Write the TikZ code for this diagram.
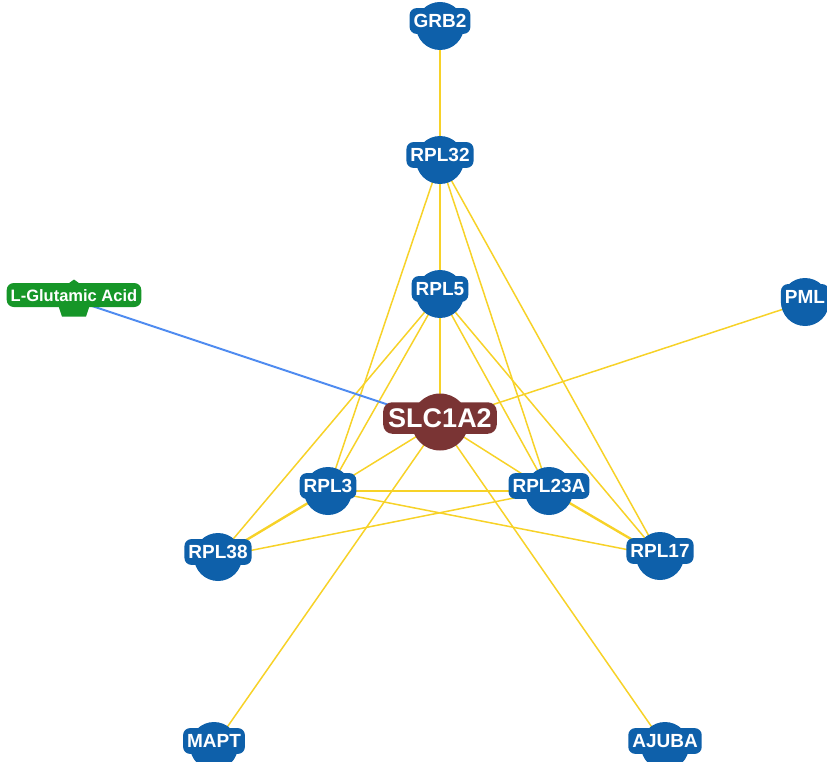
\documentclass[tikz,border=0pt]{standalone}
\usepackage{fontspec}
\setmainfont{Liberation Sans}
\usetikzlibrary{shapes.geometric,backgrounds}

\definecolor{geneblue}{RGB}{14,96,170}
\definecolor{drugbrown}{RGB}{122,52,52}
\definecolor{chemgreen}{RGB}{22,150,40}
\definecolor{linkyellow}{RGB}{247,210,40}
\definecolor{linkblue}{RGB}{80,140,240}

\begin{document}
\begin{tikzpicture}[
  x=1pt, y=-1pt,
  gene/.style={
    circle,
    fill=geneblue,
    minimum size=48pt,
    inner sep=0pt
  },
  genetext/.style={
    rectangle,
    rounded corners=7pt,
    fill=geneblue,
    text=white,
    font=\bfseries\fontsize{19}{19}\selectfont,
    text height=13.8pt, text depth=0pt,
    inner xsep=4pt, inner ysep=6pt,
    yshift=5pt
  },
  target/.style={
    circle,
    fill=drugbrown,
    minimum size=57pt,
    inner sep=0pt
  },
  targettext/.style={
    rectangle,
    rounded corners=9pt,
    fill=drugbrown,
    text=white,
    font=\bfseries\fontsize{27}{27}\selectfont,
    text height=19.5pt, text depth=0pt,
    inner xsep=5pt, inner ysep=6pt,
    yshift=4pt
  },
  chem/.style={
    regular polygon,
    regular polygon sides=5,
    fill=chemgreen,
    minimum size=41pt,
    inner sep=0pt
  },
  chemtext/.style={
    rectangle,
    rounded corners=7pt,
    fill=chemgreen,
    text=white,
    font=\bfseries\fontsize{16.5}{16.5}\selectfont,
    text height=12pt, text depth=0pt,
    inner xsep=4pt, inner ysep=6pt,
    yshift=5pt
  },
  link/.style={
    draw=linkyellow,
    line width=1.5pt
  },
  boldlink/.style={
    draw=linkyellow,
    line width=2.4pt
  },
  druglink/.style={
    draw=linkblue,
    line width=2pt
  }]
  \useasboundingbox (0,0) rectangle (827,762);
  % centre
  \node [target, label={[targettext]center:SLC1A2}] (slc1a2) at (440,422) {};
  % upper chain
  \node [gene, label={[genetext]center:GRB2}] (grb2) at (440,26) {};
  \node [gene, label={[genetext]center:RPL32}] (rpl32) at (440,160) {};
  \node [gene, label={[genetext]center:RPL5}] (rpl5) at (440,294) {};
  % sides
  \node [chem, label={[chemtext]center:L-Glutamic Acid}] (glutamic) at (74,300) {};
  \node [gene, label={[genetext]center:PML}] (pml) at (805,302) {};
  % ribosome ring
  \node [gene, label={[genetext]center:RPL3}] (rpl3) at (328,491) {};
  \node [gene, label={[genetext]center:RPL23A}] (rpl23a) at (549,491) {};
  \node [gene, label={[genetext]center:RPL38}] (rpl38) at (218,557) {};
  \node [gene, label={[genetext]center:RPL17}] (rpl17) at (660,556) {};
  % bottom
  \node [gene, label={[genetext]center:MAPT}] (mapt) at (214,746) {};
  \node [gene, label={[genetext]center:AJUBA}] (ajuba) at (665,746) {};
  \begin{scope}[on background layer]
  % chain
  \draw[link] (grb2.center) -- (rpl32.center);
  \draw[link] (rpl32.center) -- (rpl5.center);
  \draw[link] (rpl32.center) -- (rpl3.center);
  \draw[link] (rpl32.center) -- (rpl23a.center);
  \draw[link] (rpl32.center) -- (rpl17.center);
  % rpl5
  \draw[link] (rpl5.center) -- (slc1a2.center);
  \draw[link] (rpl5.center) -- (rpl3.center);
  \draw[link] (rpl5.center) -- (rpl38.center);
  \draw[link] (rpl5.center) -- (rpl23a.center);
  \draw[link] (rpl5.center) -- (rpl17.center);
  % slc1a2
  \draw[link] (slc1a2.center) -- (rpl3.center);
  \draw[link] (slc1a2.center) -- (rpl23a.center);
  \draw[link] (slc1a2.center) -- (pml.center);
  \draw[link] (slc1a2.center) -- (mapt.center);
  \draw[link] (slc1a2.center) -- (ajuba.center);
  \draw[druglink] (slc1a2.center) -- (glutamic.center);
  % ring
  \draw[link] (rpl3.center) -- (rpl23a.center);
  \draw[link] (rpl3.center) -- (rpl17.center);
  \draw[link] (rpl23a.center) -- (rpl38.center);
  \draw[boldlink] (rpl3.center) -- (rpl38.center);
  \draw[boldlink] (rpl23a.center) -- (rpl17.center);
  \end{scope}
\end{tikzpicture}
\end{document}
